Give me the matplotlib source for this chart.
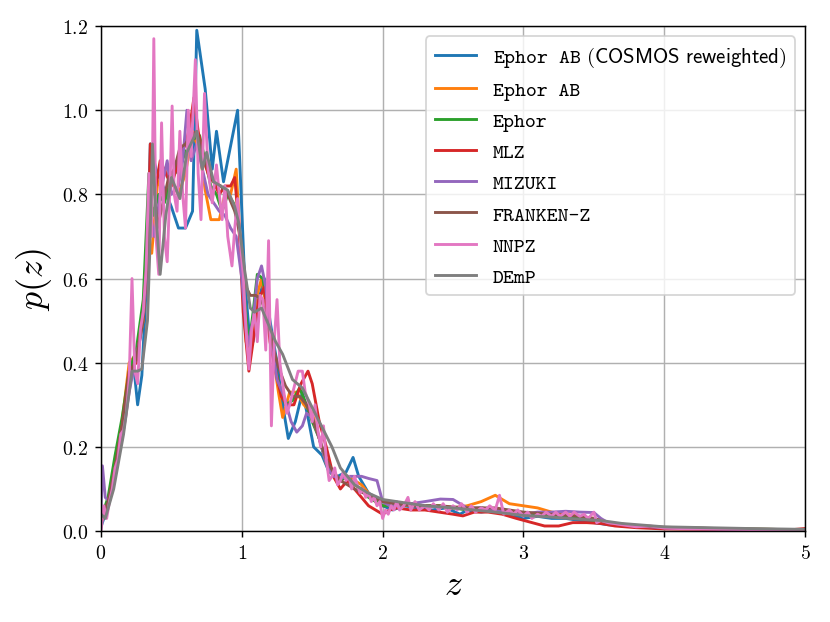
import numpy as np
import matplotlib
matplotlib.use("Agg")
import matplotlib.pyplot as plt

plt.rcParams['font.family'] = 'cmr10'
plt.rcParams['mathtext.fontset'] = 'cm'
plt.rcParams['axes.formatter.use_mathtext'] = True

# p(z) curves, each one as (z, p) vertices
labels = ['Ephor AB$\\mathsf{\\ (COSMOS\\ reweighted)}$', 'Ephor AB', 'Ephor', 'MLZ',
          'MIZUKI', 'FRANKEN-Z', 'NNPZ', 'DEmP']

z_ephor_ab_cosmos = [0, 0.05, 0.11, 0.15, 0.2, 0.23, 0.26, 0.29, 0.33, 0.35, 0.39, 0.44, 0.5, 0.55,
                     0.6, 0.65, 0.68, 0.74, 0.79, 0.82, 0.87, 0.97, 1.02, 1.05, 1.08, 1.12, 1.16, 1.2,
                     1.25, 1.29, 1.33, 1.38, 1.43, 1.47, 1.51, 1.57, 1.62, 1.68, 1.74, 1.79, 1.83, 1.9,
                     1.95, 2.0, 2.07, 2.15, 2.25, 2.35, 2.45, 2.55, 2.6, 2.7, 2.8, 2.9, 3.0, 3.1, 3.2,
                     3.3, 3.4, 3.5, 3.6, 3.8, 4.0, 4.5, 5.0]
p_ephor_ab_cosmos = [0.01, 0.06, 0.19, 0.25, 0.36, 0.40, 0.30, 0.37, 0.64, 0.92, 0.86, 0.82, 0.77, 0.72,
                     0.72, 0.76, 1.19, 1.05, 0.86, 0.95, 0.83, 1.0, 0.60, 0.48, 0.45, 0.55, 0.60, 0.50,
                     0.40, 0.30, 0.22, 0.26, 0.33, 0.27, 0.20, 0.18, 0.14, 0.13, 0.14, 0.175, 0.13, 0.09,
                     0.08, 0.06, 0.05, 0.06, 0.055, 0.05, 0.055, 0.04, 0.05, 0.045, 0.05, 0.04, 0.03, 0.035,
                     0.03, 0.03, 0.025, 0.02, 0.015, 0.01, 0.007, 0.004, 0.002]

z_ephor_ab = [0, 0.05, 0.1, 0.15, 0.2, 0.25, 0.3, 0.33, 0.36, 0.4, 0.45, 0.5, 0.55, 0.6, 0.65, 0.7,
              0.74, 0.78, 0.84, 0.88, 0.92, 0.96, 1.0, 1.03, 1.06, 1.1, 1.14, 1.18, 1.22, 1.26, 1.29,
              1.34, 1.39, 1.44, 1.5, 1.55, 1.6, 1.65, 1.7, 1.75, 1.8, 1.85, 1.9, 1.95, 2.0, 2.1, 2.2,
              2.3, 2.4, 2.5, 2.6, 2.7, 2.8, 2.9, 3.0, 3.1, 3.15, 3.2, 3.3, 3.4, 3.5, 3.6, 3.8, 4.0,
              4.5, 5.0]
p_ephor_ab = [0.02, 0.07, 0.15, 0.26, 0.40, 0.42, 0.50, 0.70, 0.66, 0.82, 0.86, 0.83, 0.80, 0.85, 0.95,
              0.90, 0.81, 0.74, 0.74, 0.80, 0.80, 0.86, 0.62, 0.45, 0.42, 0.55, 0.60, 0.52, 0.42, 0.33,
              0.27, 0.33, 0.33, 0.30, 0.28, 0.22, 0.16, 0.14, 0.12, 0.13, 0.12, 0.11, 0.09, 0.07, 0.06,
              0.065, 0.06, 0.06, 0.06, 0.055, 0.06, 0.07, 0.085, 0.065, 0.06, 0.055, 0.05, 0.045, 0.04,
              0.035, 0.03, 0.02, 0.012, 0.008, 0.005, 0.003]

z_ephor = [0, 0.05, 0.1, 0.15, 0.2, 0.25, 0.3, 0.34, 0.37, 0.41, 0.45, 0.5, 0.55, 0.6, 0.65, 0.7,
           0.74, 0.78, 0.82, 0.86, 0.9, 0.94, 0.98, 1.02, 1.05, 1.08, 1.11, 1.15, 1.19, 1.23, 1.27,
           1.31, 1.36, 1.41, 1.46, 1.5, 1.55, 1.6, 1.65, 1.7, 1.75, 1.8, 1.85, 1.9, 1.95, 2.0, 2.1,
           2.2, 2.3, 2.4, 2.5, 2.6, 2.7, 2.8, 2.9, 3.0, 3.1, 3.2, 3.3, 3.4, 3.5, 3.6, 3.8, 4.0, 4.5, 5.0]
p_ephor = [0.03, 0.08, 0.18, 0.27, 0.38, 0.43, 0.55, 0.85, 0.75, 0.80, 0.78, 0.84, 0.86, 0.90, 0.93,
           0.94, 0.88, 0.82, 0.80, 0.76, 0.80, 0.78, 0.72, 0.55, 0.44, 0.52, 0.61, 0.60, 0.50, 0.40,
           0.34, 0.30, 0.31, 0.34, 0.30, 0.26, 0.22, 0.16, 0.13, 0.12, 0.13, 0.11, 0.10, 0.08, 0.07,
           0.06, 0.06, 0.065, 0.06, 0.06, 0.055, 0.05, 0.055, 0.05, 0.045, 0.04, 0.04, 0.035, 0.035,
           0.03, 0.025, 0.018, 0.011, 0.008, 0.005, 0.003]

z_mlz = [0, 0.05, 0.1, 0.15, 0.2, 0.25, 0.3, 0.33, 0.35, 0.38, 0.42, 0.46, 0.5, 0.55, 0.6, 0.63, 0.66,
         0.69, 0.73, 0.77, 0.8, 0.84, 0.88, 0.92, 0.95, 0.98, 1.01, 1.05, 1.08, 1.12, 1.16, 1.2, 1.24,
         1.28, 1.32, 1.37, 1.42, 1.47, 1.5, 1.55, 1.6, 1.65, 1.7, 1.75, 1.8, 1.85, 1.9, 1.95, 2.0,
         2.05, 2.1, 2.2, 2.3, 2.4, 2.5, 2.57, 2.65, 2.75, 2.85, 2.95, 3.05, 3.15, 3.25, 3.35, 3.45,
         3.55, 3.65, 3.8, 4.0, 4.5, 4.9, 5.0]
p_mlz = [0.02, 0.06, 0.15, 0.25, 0.38, 0.40, 0.52, 0.65, 0.92, 0.80, 0.88, 0.85, 0.82, 0.88, 0.92, 0.96,
         1.03, 0.95, 0.88, 0.84, 0.83, 0.80, 0.82, 0.82, 0.84, 0.72, 0.52, 0.38, 0.45, 0.55, 0.58, 0.45,
         0.38, 0.32, 0.30, 0.30, 0.35, 0.38, 0.35, 0.26, 0.20, 0.13, 0.10, 0.12, 0.10, 0.08, 0.06, 0.05,
         0.04, 0.05, 0.055, 0.05, 0.05, 0.045, 0.04, 0.036, 0.045, 0.045, 0.04, 0.03, 0.021, 0.012,
         0.012, 0.02, 0.02, 0.018, 0.012, 0.008, 0.005, 0.003, 0.003, 0.006]

z_mizuki = [0, 0.01, 0.03, 0.06, 0.1, 0.15, 0.2, 0.24, 0.28, 0.32, 0.35, 0.38, 0.42, 0.47, 0.5, 0.55,
            0.58, 0.61, 0.64, 0.68, 0.72, 0.76, 0.8, 0.84, 0.88, 0.92, 0.96, 1.0, 1.04, 1.08, 1.11,
            1.14, 1.17, 1.21, 1.25, 1.3, 1.35, 1.39, 1.43, 1.46, 1.5, 1.55, 1.6, 1.65, 1.7, 1.75, 1.8,
            1.85, 1.9, 1.96, 2.0, 2.05, 2.1, 2.2, 2.3, 2.41, 2.5, 2.6, 2.7, 2.8, 2.9, 3.0, 3.1, 3.2,
            3.3, 3.4, 3.5, 3.55, 3.6, 3.8, 4.0, 4.5, 5.0]
p_mizuki = [0.05, 0.155, 0.08, 0.07, 0.14, 0.22, 0.33, 0.40, 0.46, 0.58, 0.75, 0.70, 0.80, 0.88, 0.80,
            0.82, 0.88, 1.0, 0.88, 0.92, 0.86, 0.80, 0.78, 0.76, 0.75, 0.72, 0.70, 0.60, 0.44, 0.50,
            0.60, 0.63, 0.58, 0.45, 0.36, 0.32, 0.26, 0.235, 0.25, 0.28, 0.27, 0.22, 0.16, 0.13, 0.125,
            0.13, 0.13, 0.13, 0.125, 0.12, 0.07, 0.06, 0.06, 0.065, 0.07, 0.076, 0.075, 0.055, 0.055,
            0.05, 0.045, 0.04, 0.045, 0.045, 0.047, 0.045, 0.044, 0.03, 0.02, 0.012, 0.008, 0.004, 0.002]

z_franken = [0, 0.05, 0.1, 0.15, 0.2, 0.25, 0.3, 0.34, 0.37, 0.4, 0.44, 0.48, 0.52, 0.56, 0.6, 0.64,
             0.68, 0.72, 0.76, 0.8, 0.85, 0.9, 0.95, 0.99, 1.03, 1.06, 1.1, 1.14, 1.18, 1.22, 1.26,
             1.31, 1.36, 1.41, 1.46, 1.5, 1.55, 1.6, 1.65, 1.7, 1.8, 1.9, 2.0, 2.1, 2.2, 2.4, 2.6,
             2.8, 3.0, 3.2, 3.4, 3.5, 3.6, 3.8, 4.0, 4.5, 5.0]
p_franken = [0.03, 0.07, 0.15, 0.25, 0.37, 0.41, 0.50, 0.70, 0.86, 0.72, 0.78, 0.84, 0.86, 0.91, 0.92,
             0.94, 0.95, 0.90, 0.86, 0.83, 0.82, 0.80, 0.76, 0.70, 0.58, 0.56, 0.56, 0.55, 0.50, 0.44,
             0.39, 0.345, 0.32, 0.32, 0.30, 0.27, 0.22, 0.17, 0.14, 0.12, 0.10, 0.085, 0.07, 0.065,
             0.06, 0.06, 0.055, 0.055, 0.045, 0.04, 0.035, 0.03, 0.02, 0.013, 0.009, 0.005, 0.003]

z_nnpz = [0, 0.02, 0.04, 0.06, 0.08, 0.1, 0.12, 0.14, 0.16, 0.18, 0.2, 0.22, 0.24, 0.26, 0.28, 0.3,
          0.32, 0.34, 0.36, 0.375, 0.39, 0.41, 0.43, 0.45, 0.47, 0.49, 0.505, 0.52, 0.54, 0.56, 0.58,
          0.6, 0.62, 0.64, 0.67, 0.69, 0.71, 0.735, 0.76, 0.79, 0.82, 0.84, 0.86, 0.88, 0.9, 0.93,
          0.95, 0.97, 0.99, 1.01, 1.03, 1.05, 1.07, 1.09, 1.11, 1.13, 1.15, 1.17, 1.19, 1.21, 1.23,
          1.25, 1.27, 1.29, 1.32, 1.34, 1.37, 1.4, 1.43, 1.45, 1.48, 1.5, 1.52, 1.54, 1.56, 1.58, 1.6,
          1.62, 1.64, 1.66, 1.68, 1.7, 1.72, 1.74, 1.76, 1.78, 1.8, 1.82, 1.84, 1.86, 1.88, 1.9, 1.92,
          1.94, 1.96, 1.98, 2.0, 2.02, 2.04, 2.06, 2.08, 2.1, 2.12, 2.15, 2.18, 2.2, 2.23, 2.26, 2.3,
          2.33, 2.36, 2.4, 2.43, 2.46, 2.5, 2.53, 2.56, 2.6, 2.63, 2.66, 2.7, 2.73, 2.76, 2.8, 2.83,
          2.86, 2.9, 2.93, 2.96, 3.0, 3.03, 3.06, 3.1, 3.13, 3.16, 3.2, 3.23, 3.26, 3.3, 3.33, 3.36,
          3.4, 3.43, 3.46, 3.5, 3.52, 3.55, 3.6, 3.7, 3.8, 3.9, 4.0, 4.2, 4.5, 5.0]
p_nnpz = [0.0, 0.06, 0.03, 0.07, 0.10, 0.15, 0.17, 0.23, 0.24, 0.28, 0.36, 0.60, 0.38, 0.35, 0.48, 0.52,
          0.62, 0.85, 0.70, 1.17, 0.70, 0.61, 0.97, 0.70, 0.64, 0.82, 1.01, 0.80, 0.76, 0.95, 0.80,
          0.72, 1.0, 0.89, 1.12, 0.85, 0.74, 1.04, 0.86, 0.78, 0.87, 0.80, 0.74, 0.82, 0.70, 0.63,
          0.72, 0.79, 0.68, 0.61, 0.48, 0.385, 0.48, 0.52, 0.45, 0.56, 0.55, 0.43, 0.69, 0.25, 0.45,
          0.55, 0.40, 0.35, 0.28, 0.30, 0.34, 0.38, 0.38, 0.33, 0.30, 0.26, 0.30, 0.24, 0.20, 0.25,
          0.17, 0.12, 0.13, 0.15, 0.11, 0.12, 0.14, 0.12, 0.13, 0.10, 0.13, 0.11, 0.09, 0.10, 0.08,
          0.09, 0.07, 0.08, 0.06, 0.07, 0.03, 0.05, 0.04, 0.06, 0.05, 0.07, 0.05, 0.06, 0.08, 0.05,
          0.07, 0.05, 0.06, 0.05, 0.065, 0.05, 0.065, 0.045, 0.06, 0.05, 0.065, 0.045, 0.06, 0.045,
          0.055, 0.05, 0.06, 0.05, 0.085, 0.04, 0.05, 0.04, 0.05, 0.035, 0.045, 0.03, 0.04, 0.035,
          0.045, 0.035, 0.045, 0.035, 0.045, 0.035, 0.045, 0.035, 0.04, 0.03, 0.045, 0.02, 0.025,
          0.02, 0.015, 0.01, 0.012, 0.007, 0.005, 0.004, 0.002]

z_demp = [0, 0.03, 0.09, 0.16, 0.22, 0.26, 0.29, 0.33, 0.345, 0.365, 0.39, 0.42, 0.46, 0.5, 0.56,
          0.61, 0.68, 0.72, 0.75, 0.8, 0.85, 0.9, 0.95, 0.98, 1.02, 1.06, 1.09, 1.14, 1.19, 1.24,
          1.29, 1.36, 1.43, 1.52, 1.58, 1.64, 1.7, 1.8, 1.9, 2.0, 2.1, 2.3, 2.5, 2.8, 3.0, 3.2, 3.4,
          3.55, 3.7, 3.85, 4.0, 4.3, 4.6, 5.0]
p_demp = [0.04, 0.03, 0.10, 0.23, 0.38, 0.38, 0.385, 0.50, 0.65, 0.92, 0.75, 0.61, 0.75, 0.84, 0.79,
          0.90, 0.95, 0.86, 0.90, 0.83, 0.82, 0.81, 0.77, 0.73, 0.62, 0.53, 0.52, 0.53, 0.49, 0.45,
          0.42, 0.36, 0.34, 0.28, 0.24, 0.20, 0.15, 0.11, 0.09, 0.075, 0.07, 0.06, 0.055, 0.045, 0.037,
          0.033, 0.028, 0.025, 0.018, 0.014, 0.010, 0.008, 0.006, 0.004]

zs = [z_ephor_ab_cosmos, z_ephor_ab, z_ephor, z_mlz, z_mizuki, z_franken, z_nnpz, z_demp]
ps = [p_ephor_ab_cosmos, p_ephor_ab, p_ephor, p_mlz, p_mizuki, p_franken, p_nnpz, p_demp]

fig = plt.figure(figsize=(6.385, 4.792), dpi=130)
ax = fig.add_axes([0.1217, 0.146, 0.8482, 0.8106])

for z, p, lab in zip(zs, ps, labels):
    ax.plot(z, p, label=lab, lw=1.6)

ax.set_xlim(0, 5)
ax.set_ylim(0, 1.2)
ax.set_xlabel('$z$', fontsize=20)
ax.set_ylabel('$p(z)$', fontsize=20)
ax.tick_params(labelsize=11)
ax.grid(True)
ax.legend(loc='upper right', prop={'family': 'cmtt10', 'size': 11.5}, labelspacing=0.56)

fig.savefig('out.png', dpi=130)
